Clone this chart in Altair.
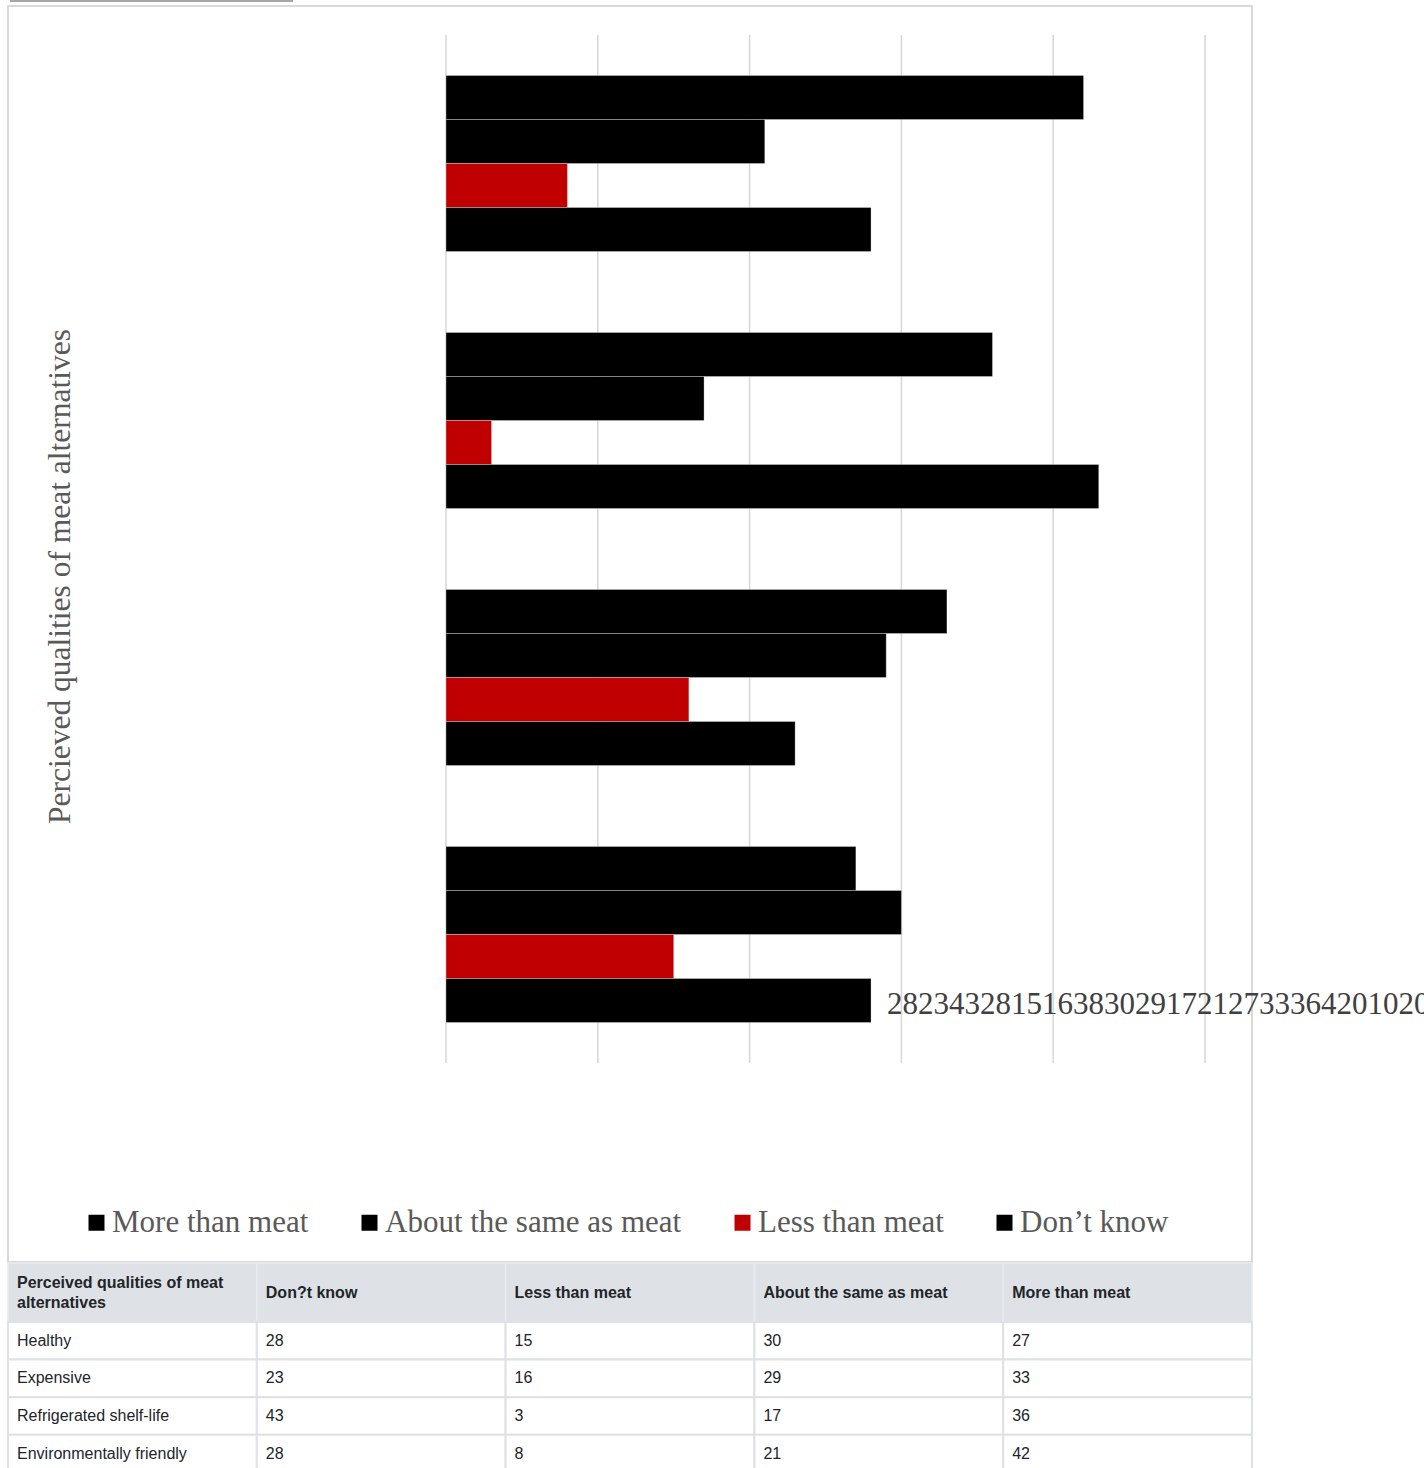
import altair as alt
import pandas as pd

# ---------------- data ----------------
categories = ["Healthy", "Expensive", "Refrigerated shelf-life", "Environmentally friendly"]
series = ["More than meat", "About the same as meat", "Less than meat", "Don\u2019t know"]
more_than = [27, 33, 36, 42]
about_same = [30, 29, 17, 21]
less_than = [15, 16, 3, 8]
dont_know = [28, 23, 43, 28]
ticks = [0, 10, 20, 30, 40, 50]
colors = ["#000000", "#000000", "#c00000", "#000000"]
table_header = ["Perceived qualities of meat\nalternatives", "Don?t know", "Less than meat",
                "About the same as meat", "More than meat"]
y_title = "Percieved qualities of meat alternatives"

series_values = dict(zip(series, [more_than, about_same, less_than, dont_know]))
cat_order = list(reversed(categories))

bars_df = pd.DataFrame([
    {"category": c, "series": s, "value": v}
    for s in series for c, v in zip(categories, series_values[s])
])

# Excel-style run-on data label (all values + axis ticks concatenated)
label_text = "".join(str(v) for lst in [dont_know, less_than, about_same, more_than] for v in lst) \
    + "".join(str(t) for t in ticks)
label_df = pd.DataFrame([{"category": categories[0], "series": series[3],
                          "value": dont_know[0], "label": label_text}])

ticks_df = pd.DataFrame({"tick": ticks})

header_df = pd.DataFrame([{"r0": 0, "r1": 1, "rc": 0.5, "c0": i, "c1": i + 1, "text": t,
                           "multi": "\n" in t}
                          for i, t in enumerate(table_header)])
body_df = pd.DataFrame([
    {"r0": r, "r1": r + 1, "rc": r + 0.5, "c0": c, "c1": c + 1, "text": str(v)}
    for r, cat in enumerate(categories)
    for c, v in enumerate([cat, dont_know[r], less_than[r], about_same[r], more_than[r]])
])

one = pd.DataFrame({"a": [0]})

# ---------------- scales ----------------
xs = alt.Scale(domain=[0, 50], range=[446, 1205], nice=False, zero=True)
ys = alt.Scale(domain=cat_order, range=[35, 1063], paddingInner=0.315, paddingOuter=0.1575)
yo = alt.Scale(domain=series, paddingInner=0, paddingOuter=0)
cs = alt.Scale(domain=series, range=colors)
col_s = alt.Scale(domain=[0, 5], range=[8, 1252], nice=False, zero=False)
head_s = alt.Scale(domain=[0, 1], range=[1263, 1322], nice=False, zero=False)
row_s = alt.Scale(domain=[0, 4], range=[1322, 1472.4], nice=False, zero=False)

# ---------------- layers ----------------
frame = alt.Chart(one).mark_rect(fill="transparent", stroke="#d9d9d9", strokeWidth=2).encode(
    x=alt.value(8), x2=alt.value(1252), y=alt.value(6), y2=alt.value(1262))

topbar = alt.Chart(one).mark_rule(color="#a6a6a6", strokeWidth=2).encode(
    x=alt.value(10), x2=alt.value(293), y=alt.value(1))

grid = alt.Chart(ticks_df).mark_rule(color="#d9d9d9", strokeWidth=1.6).encode(
    x=alt.X("tick:Q", scale=xs, axis=None), y=alt.value(35), y2=alt.value(1063))

bars = alt.Chart(bars_df).mark_bar(stroke="white", strokeOpacity=0.3, strokeWidth=1).encode(
    x=alt.X("value:Q", scale=xs, axis=None),
    y=alt.Y("category:N", scale=ys, sort=cat_order,
            axis=alt.Axis(title=y_title, labels=False, ticks=False, domain=False, grid=False,
                          titleFont="Liberation Serif", titleFontSize=31.5, titleColor="#595959",
                          titleFontWeight="normal", titleX=60, titleY=576, titleAngle=270,
                          titleAlign="center", titleBaseline="middle")),
    yOffset=alt.YOffset("series:N", scale=yo, sort=series),
    color=alt.Color("series:N", scale=cs, sort=series,
                    legend=alt.Legend(title=None, orient="none", legendX=81, legendY=1207,
                                      direction="horizontal", columns=4, symbolType="square",
                                      symbolSize=256, symbolStrokeWidth=0,
                                      labelFont="Liberation Serif", labelFontSize=31,
                                      labelColor="#595959", labelOffset=0, columnPadding=45,
                                      padding=0, labelLimit=600)),
)

label = alt.Chart(label_df).mark_text(align="left", baseline="middle", dx=16, dy=-18,
                                      font="Liberation Serif", fontSize=31, color="#404040").encode(
    x=alt.X("value:Q", scale=xs, axis=None),
    y=alt.Y("category:N", scale=ys, sort=cat_order, axis=None),
    yOffset=alt.YOffset("series:N", scale=yo, sort=series),
    text="label:N",
)

head_rect = alt.Chart(header_df).mark_rect(fill="#dee2e6", stroke="#e9ecef", strokeWidth=1.5).encode(
    x=alt.X("c0:Q", scale=col_s, axis=None), x2="c1:Q",
    y=alt.Y("r0:Q", scale=head_s, axis=None), y2="r1:Q",
)
head_text_style = dict(align="left", baseline="middle", dx=9, lineBreak="\n", lineHeight=20,
                       font="Liberation Sans", fontSize=16, fontWeight="bold", color="#212529")
head_text_single = alt.Chart(header_df).transform_filter("!datum.multi").mark_text(
    **head_text_style).encode(
    x=alt.X("c0:Q", scale=col_s, axis=None),
    y=alt.Y("rc:Q", scale=head_s, axis=None),
    text="text:N",
)
head_text_multi = alt.Chart(header_df).transform_filter("datum.multi").mark_text(
    dy=-10, **head_text_style).encode(
    x=alt.X("c0:Q", scale=col_s, axis=None),
    y=alt.Y("rc:Q", scale=head_s, axis=None),
    text="text:N",
)
body_rect = alt.Chart(body_df).mark_rect(fill="white", stroke="#dee2e6", strokeWidth=2).encode(
    x=alt.X("c0:Q", scale=col_s, axis=None), x2="c1:Q",
    y=alt.Y("r0:Q", scale=row_s, axis=None), y2="r1:Q",
)
body_text = alt.Chart(body_df).mark_text(align="left", baseline="middle", dx=9,
                                         font="Liberation Sans", fontSize=16, color="#212529").encode(
    x=alt.X("c0:Q", scale=col_s, axis=None),
    y=alt.Y("rc:Q", scale=row_s, axis=None),
    text="text:N",
)

chart = alt.layer(frame, topbar, grid, bars, label, head_rect, head_text_single, head_text_multi,
                  body_rect, body_text).resolve_scale(
    x="independent", y="independent", yOffset="independent"
).properties(
    width=1424, height=1468, autosize=alt.AutoSizeParams(type="none"), padding=0, background="white"
).configure_view(strokeWidth=0)

chart.save("out.html", embed_options={"renderer": "svg", "actions": False})
